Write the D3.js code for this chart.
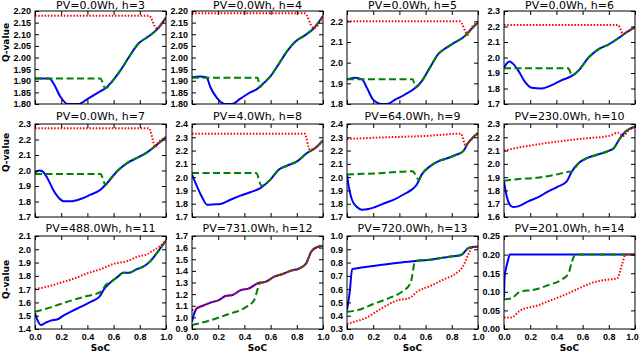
<!DOCTYPE html>
<html>
<head>
<meta charset="utf-8">
<script src="https://cdnjs.cloudflare.com/ajax/libs/d3/7.8.5/d3.min.js"></script>
<style>
    body { margin: 0; background: #fff; }
    svg { display: block; font-family: "DejaVu Sans", sans-serif; }
    .axis text { font-size: 9px; font-weight: bold; fill: #000; }
    .axis line { stroke: #000; }
    .title { font-size: 11px; }
    .label { font-size: 9px; font-weight: bold; }
</style>
</head>
<body>
<svg></svg>
<script>
//-------------------
// DATA
//-------------------
var panelTitles = [
    "PV=0.0Wh, h=3", "PV=0.0Wh, h=4", "PV=0.0Wh, h=5", "PV=0.0Wh, h=6",
    "PV=0.0Wh, h=7", "PV=4.0Wh, h=8", "PV=64.0Wh, h=9", "PV=230.0Wh, h=10",
    "PV=488.0Wh, h=11", "PV=731.0Wh, h=12", "PV=720.0Wh, h=13", "PV=201.0Wh, h=14"
];

var yDomains = [
    [1.80, 2.20], [1.80, 2.20], [1.80, 2.25], [1.70, 2.30],
    [1.70, 2.30], [1.70, 2.40], [1.70, 2.40], [1.60, 2.30],
    [1.40, 2.10], [0.90, 1.70], [0.30, 1.00], [0.00, 0.25]
];

var yTickValues = [
    [1.80, 1.85, 1.90, 1.95, 2.00, 2.05, 2.10, 2.15, 2.20],
    [1.80, 1.85, 1.90, 1.95, 2.00, 2.05, 2.10, 2.15, 2.20],
    [1.8, 1.9, 2.0, 2.1, 2.2],
    [1.7, 1.8, 1.9, 2.0, 2.1, 2.2, 2.3],
    [1.7, 1.8, 1.9, 2.0, 2.1, 2.2, 2.3],
    [1.7, 1.8, 1.9, 2.0, 2.1, 2.2, 2.3, 2.4],
    [1.7, 1.8, 1.9, 2.0, 2.1, 2.2, 2.3, 2.4],
    [1.6, 1.7, 1.8, 1.9, 2.0, 2.1, 2.2, 2.3],
    [1.4, 1.5, 1.6, 1.7, 1.8, 1.9, 2.0, 2.1],
    [0.9, 1.0, 1.1, 1.2, 1.3, 1.4, 1.5, 1.6, 1.7],
    [0.3, 0.4, 0.5, 0.6, 0.7, 0.8, 0.9, 1.0],
    [0.00, 0.05, 0.10, 0.15, 0.20, 0.25]
];
var yTickFormats = [".2f", ".2f", ".1f", ".1f", ".1f", ".1f", ".1f", ".1f", ".1f", ".1f", ".1f", ".2f"];

var xTickValues = [0.0, 0.2, 0.4, 0.6, 0.8, 1.0];

// blue solid curve, [SoC, Q]
var blueSeries = [
    [[0, 1.91], [0.11, 1.91], [0.145, 1.885], [0.195, 1.83], [0.25, 1.80], [0.33, 1.80], [0.40, 1.821], [0.475, 1.847], [0.54, 1.869], [0.60, 1.905], [0.655, 1.947], [0.715, 2.0], [0.79, 2.06], [0.865, 2.09], [0.93, 2.12], [1.0, 2.172]],
    [[0, 1.915], [0.06, 1.918], [0.11, 1.915], [0.14, 1.873], [0.19, 1.826], [0.25, 1.80], [0.305, 1.80], [0.37, 1.823], [0.435, 1.847], [0.495, 1.864], [0.535, 1.883], [0.6, 1.92], [0.66, 1.97], [0.725, 2.026], [0.79, 2.069], [0.855, 2.093], [0.93, 2.126], [1.0, 2.178]],
    [[0, 1.919], [0.06, 1.927], [0.115, 1.919], [0.152, 1.878], [0.2, 1.821], [0.265, 1.80], [0.305, 1.80], [0.367, 1.821], [0.443, 1.846], [0.52, 1.878], [0.57, 1.91], [0.633, 1.976], [0.696, 2.041], [0.76, 2.073], [0.823, 2.098], [0.886, 2.122], [0.937, 2.154], [1.0, 2.195]],
    [[0, 1.932], [0.018, 1.959], [0.044, 1.974], [0.07, 1.959], [0.108, 1.917], [0.16, 1.843], [0.21, 1.805], [0.287, 1.80], [0.364, 1.822], [0.441, 1.854], [0.518, 1.881], [0.57, 1.917], [0.646, 2.0], [0.723, 2.054], [0.8, 2.085], [0.877, 2.127], [0.94, 2.165], [1.0, 2.197]],
    [[0, 1.988], [0.03, 2.0], [0.056, 1.995], [0.094, 1.952], [0.145, 1.866], [0.196, 1.812], [0.22, 1.801], [0.272, 1.801], [0.348, 1.816], [0.424, 1.844], [0.5, 1.876], [0.551, 1.919], [0.627, 1.995], [0.703, 2.048], [0.779, 2.081], [0.855, 2.117], [0.931, 2.167], [1.0, 2.216]],
    [[0, 2.019], [0.038, 1.931], [0.076, 1.851], [0.115, 1.793], [0.165, 1.795], [0.216, 1.798], [0.293, 1.83], [0.369, 1.861], [0.445, 1.886], [0.522, 1.918], [0.598, 1.981], [0.662, 2.056], [0.725, 2.086], [0.802, 2.119], [0.878, 2.182], [0.941, 2.219], [1.0, 2.277]],
    [[0, 2.019], [0.013, 1.931], [0.038, 1.83], [0.076, 1.775], [0.114, 1.755], [0.165, 1.76], [0.215, 1.775], [0.291, 1.805], [0.367, 1.835], [0.443, 1.876], [0.494, 1.906], [0.532, 1.943], [0.57, 2.019], [0.633, 2.081], [0.696, 2.119], [0.772, 2.144], [0.835, 2.169], [0.886, 2.194], [0.924, 2.257], [1.0, 2.332]],
    [[0, 1.868], [0.018, 1.768], [0.044, 1.693], [0.069, 1.675], [0.108, 1.68], [0.185, 1.718], [0.262, 1.75], [0.338, 1.793], [0.415, 1.83], [0.479, 1.868], [0.518, 1.943], [0.569, 2.005], [0.633, 2.043], [0.71, 2.068], [0.787, 2.093], [0.838, 2.118], [0.877, 2.18], [0.928, 2.243], [1.0, 2.28]],
    [[0, 1.518], [0.018, 1.468], [0.044, 1.43], [0.082, 1.448], [0.12, 1.463], [0.172, 1.473], [0.223, 1.505], [0.274, 1.53], [0.351, 1.568], [0.428, 1.606], [0.492, 1.643], [0.531, 1.706], [0.582, 1.756], [0.633, 1.794], [0.672, 1.824], [0.723, 1.824], [0.774, 1.849], [0.826, 1.869], [0.877, 1.907], [0.928, 1.969], [1.0, 2.065]],
    [[0, 0.963], [0.013, 1.02], [0.038, 1.078], [0.077, 1.098], [0.141, 1.127], [0.205, 1.149], [0.256, 1.184], [0.308, 1.192], [0.372, 1.235], [0.436, 1.25], [0.5, 1.293], [0.564, 1.307], [0.628, 1.35], [0.692, 1.373], [0.756, 1.402], [0.821, 1.422], [0.872, 1.465], [0.91, 1.565], [0.962, 1.608], [1.0, 1.614]],
    [[0, 0.443], [0.021, 0.581], [0.039, 0.749], [0.059, 0.754], [0.2, 0.774], [0.394, 0.799], [0.523, 0.812], [0.652, 0.824], [0.781, 0.844], [0.871, 0.857], [0.923, 0.907], [0.96, 0.918], [1.0, 0.92]],
    [[0, 0.085], [0.005, 0.14], [0.018, 0.167], [0.031, 0.185], [0.044, 0.2], [1.0, 0.2]]
];

// green dashed curve: its own part only, after the last point it lies on the blue curve
var greenSeries = [
    [[0, 1.91], [0.5, 1.91], [0.53, 1.872]],
    [[0, 1.913], [0.5, 1.913], [0.52, 1.872]],
    [[0, 1.92], [0.5, 1.92], [0.525, 1.88]],
    [[0, 1.93], [0.49, 1.93], [0.52, 1.885]],
    [[0, 1.977], [0.5, 1.977], [0.54, 1.905]],
    [[0, 2.031], [0.49, 2.031], [0.53, 1.936]],
    [[0, 2.02], [0.25, 2.03], [0.5, 2.044], [0.55, 1.98]],
    [[0, 1.873], [0.1, 1.885], [0.25, 1.895], [0.4, 1.92], [0.49, 1.94]],
    [[0, 1.53], [0.12, 1.563], [0.25, 1.606], [0.377, 1.643], [0.505, 1.681], [0.54, 1.731]],
    [[0, 0.934], [0.141, 0.975], [0.27, 1.025], [0.4, 1.08], [0.475, 1.15], [0.52, 1.295]],
    [[0, 0.43], [0.085, 0.443], [0.2, 0.488], [0.317, 0.531], [0.42, 0.581], [0.485, 0.644], [0.52, 0.81]],
    [[0, 0.08], [0.056, 0.082], [0.12, 0.1], [0.236, 0.106], [0.338, 0.118], [0.441, 0.133], [0.492, 0.149], [0.518, 0.18], [0.544, 0.2]]
];

// red dotted curve: same rule as the green one
var redSeries = [
    [[0, 2.18], [0.87, 2.18], [0.93, 2.125]],
    [[0, 2.19], [0.86, 2.19], [0.92, 2.13]],
    [[0, 2.2], [0.86, 2.2], [0.925, 2.135]],
    [[0, 2.21], [0.87, 2.21], [0.91, 2.152]],
    [[0, 2.272], [0.87, 2.272], [0.92, 2.152]],
    [[0, 2.327], [0.86, 2.327], [0.9, 2.207]],
    [[0, 2.287], [0.3, 2.3], [0.6, 2.31], [0.87, 2.327], [0.905, 2.24]],
    [[0, 2.1], [0.15, 2.13], [0.35, 2.16], [0.6, 2.19], [0.8, 2.21], [0.87, 2.235], [0.91, 2.21], [0.95, 2.25]],
    [[0, 1.70], [0.1, 1.72], [0.2, 1.75], [0.3, 1.78], [0.4, 1.82], [0.5, 1.85], [0.6, 1.89], [0.7, 1.91], [0.8, 1.95], [0.85, 1.96], [0.9, 1.99], [0.95, 2.02], [1.0, 2.07]],
    [[0, 1.063], [0.03, 1.07]],
    [[0, 0.338], [0.059, 0.355], [0.137, 0.38], [0.265, 0.456], [0.394, 0.518], [0.472, 0.531], [0.536, 0.581], [0.652, 0.631], [0.729, 0.669], [0.832, 0.719], [0.884, 0.769], [0.936, 0.882]],
    [[0, 0.031], [0.056, 0.031], [0.12, 0.049], [0.262, 0.064], [0.364, 0.078], [0.492, 0.096], [0.595, 0.113], [0.697, 0.127], [0.8, 0.133], [0.864, 0.136], [0.903, 0.176], [0.928, 0.2]]
];

//-------------------
// LAYOUT
//-------------------
var width = 640, height = 352;
var colLeft = [35, 192, 347, 504],
    rowTop = [11, 124, 236],
    plotW = 131, plotH = 93,
    tickLen = 4;
// y label sits a bit above the middle of the first column
var yLabelShift = [-15, -18, -3];

var svg = d3.select("svg")
    .attr("width", width)
    .attr("height", height);

// rest of a curve runs on the blue one
function followBlue(head, blue) {
    var lastX = head[head.length - 1][0];
    return head.concat(blue.filter(p => p[0] > lastX));
}

//-------------------
// DRAW PANELS
//-------------------
panelTitles.forEach((title, i) => {
    var row = Math.floor(i / 4), col = i % 4;
    var g = svg.append("g")
        .attr("transform", "translate(" + colLeft[col] + "," + rowTop[row] + ")");

    var x = d3.scaleLinear().domain([0, 1]).range([0, plotW]);
    var y = d3.scaleLinear().domain(yDomains[i]).range([plotH, 0]);

    g.append("clipPath").attr("id", "clip" + i)
        .append("rect").attr("width", plotW).attr("height", plotH);

    var line = d3.line()
        .x(d => x(d[0]))
        .y(d => y(d[1]))
        .curve(d3.curveMonotoneX);

    var plot = g.append("g").attr("clip-path", "url(#clip" + i + ")");

    plot.append("path")
        .datum(blueSeries[i])
        .attr("d", line)
        .attr("fill", "none")
        .attr("stroke", "#0000ff")
        .attr("stroke-width", 2);

    plot.append("path")
        .datum(followBlue(greenSeries[i], blueSeries[i]))
        .attr("d", line)
        .attr("fill", "none")
        .attr("stroke", "#008000")
        .attr("stroke-width", 2)
        .attr("stroke-dasharray", "7,3.5");

    plot.append("path")
        .datum(followBlue(redSeries[i], blueSeries[i]))
        .attr("d", line)
        .attr("fill", "none")
        .attr("stroke", "#ff0000")
        .attr("stroke-width", 2)
        .attr("stroke-dasharray", "1.5,1.7");

    // axes, ticks point inward on all four sides
    var fmt = d3.format(yTickFormats[i]);
    g.append("g").attr("class", "axis")
        .call(d3.axisLeft(y).tickValues(yTickValues[i]).tickFormat(fmt)
            .tickSizeInner(-tickLen).tickSizeOuter(0).tickPadding(4));
    g.append("g").attr("class", "axis")
        .attr("transform", "translate(" + plotW + ",0)")
        .call(d3.axisRight(y).tickValues(yTickValues[i]).tickFormat("")
            .tickSizeInner(-tickLen).tickSizeOuter(0));
    g.append("g").attr("class", "axis")
        .call(d3.axisTop(x).tickValues(xTickValues).tickFormat("")
            .tickSizeInner(-tickLen).tickSizeOuter(0));
    var bottom = g.append("g").attr("class", "axis")
        .attr("transform", "translate(0," + plotH + ")")
        .call(d3.axisBottom(x).tickValues(xTickValues)
            .tickFormat(row === 2 ? d3.format(".1f") : "")
            .tickSizeInner(-tickLen).tickSizeOuter(0).tickPadding(4.5));
    g.selectAll(".axis .domain").remove();

    // last label of the last panel would run past the page edge
    if (i === panelTitles.length - 1) {
        bottom.selectAll(".tick text")
            .filter(d => d === 1.0)
            .attr("dx", -3);
    }

    g.append("rect")
        .attr("width", plotW)
        .attr("height", plotH)
        .attr("fill", "none")
        .attr("stroke", "#000")
        .attr("stroke-width", 1);

    // keep the top row of titles inside the page
    g.append("text")
        .attr("class", "title")
        .attr("x", plotW / 2)
        .attr("y", row === 0 ? -2.3 : -4.5)
        .attr("text-anchor", "middle")
        .text(title);

    if (col === 0) {
        g.append("text")
            .attr("class", "label")
            .attr("transform", "translate(-26," + (plotH / 2 + yLabelShift[row]) + ") rotate(-90)")
            .attr("text-anchor", "middle")
            .text("Q-value");
    }
    if (row === 2) {
        g.append("text")
            .attr("class", "label")
            .attr("x", plotW / 2)
            .attr("y", plotH + 22)
            .attr("text-anchor", "middle")
            .text("SoC");
    }
});
</script>
</body>
</html>
